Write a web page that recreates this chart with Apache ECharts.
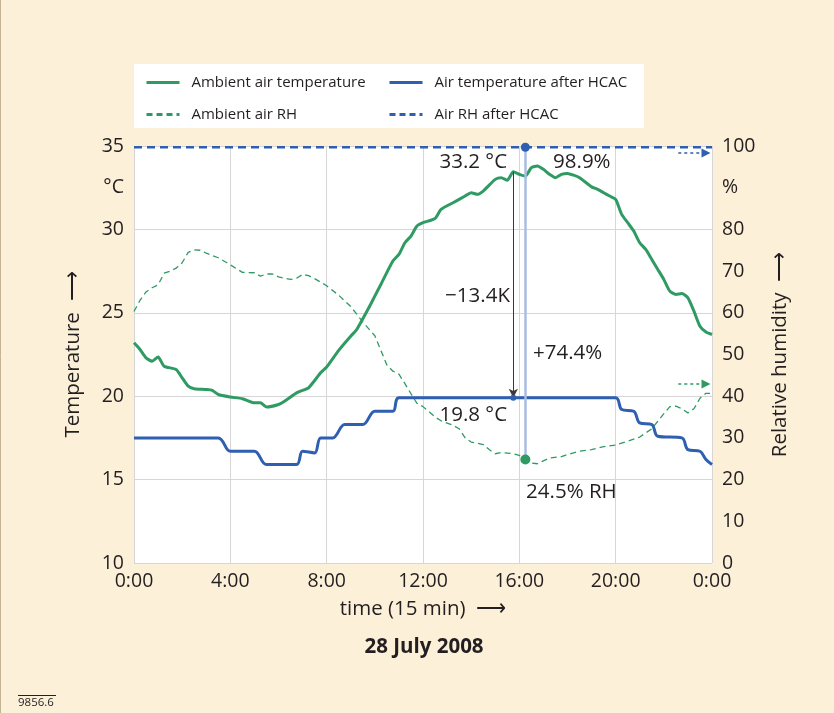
<!DOCTYPE html>
<html>
<head>
<meta charset="utf-8">
<title>28 July 2008</title>
<script src="https://cdn.jsdelivr.net/npm/echarts@6/dist/echarts.min.js"></script>
<style>
  html, body { margin: 0; padding: 0; background: #fdf0d9; }
  #chart { width: 834px; height: 713px; }
</style>
</head>
<body>
<div id="chart"></div>
<script>
const green = '#2f9b63';
const blue = '#2e5fb0';
const ink = '#231f20';
const font = '"Open Sans", "Noto Sans", sans-serif';

// tick labels
const timeLabels = ['0:00', '4:00', '8:00', '12:00', '16:00', '20:00', '0:00'];
const tempLabels = ['10', '', '15', '', '20', '', '25', '', '30', '°C', '35'];
const rhLabels = ['0', '10', '20', '30', '40', '50', '60', '70', '80', '%', '100'];

// [hour, °C]
const tAmbient = [
  [0, 23.2], [0.25, 22.8], [0.5, 22.3], [0.75, 22.1], [1.0, 22.35], [1.25, 21.8], [1.75, 21.6],
  [2.0, 21.1], [2.25, 20.6], [2.5, 20.45], [3.0, 20.4], [3.25, 20.35], [3.5, 20.1], [4.0, 19.95],
  [4.5, 19.85], [5.0, 19.6], [5.25, 19.6], [5.5, 19.35], [6.0, 19.5], [6.25, 19.7], [6.75, 20.2],
  [7.0, 20.35], [7.25, 20.5], [7.75, 21.4], [8.0, 21.75], [8.5, 22.75], [9.0, 23.6], [9.25, 24.0],
  [9.75, 25.3], [10.0, 26.0], [10.25, 26.7], [10.75, 28.1], [11.0, 28.5], [11.25, 29.2], [11.5, 29.6],
  [11.75, 30.2], [12.0, 30.4], [12.5, 30.65], [12.75, 31.2], [13.25, 31.6], [13.75, 32.0], [14.0, 32.2],
  [14.25, 32.1], [14.5, 32.3], [15.0, 33.0], [15.25, 33.1], [15.5, 32.95], [15.75, 33.45], [16.0, 33.3],
  [16.25, 33.2], [16.5, 33.7], [16.75, 33.8], [17.0, 33.6], [17.25, 33.3], [17.5, 33.1], [17.75, 33.3],
  [18.0, 33.35], [18.25, 33.25], [18.5, 33.1], [19.0, 32.55], [19.25, 32.4], [19.5, 32.2], [19.75, 32.0],
  [20.0, 31.8], [20.25, 30.9], [20.5, 30.4], [20.75, 29.9], [21.0, 29.2], [21.25, 28.8], [21.5, 28.2],
  [21.75, 27.6], [22.0, 27.0], [22.25, 26.3], [22.5, 26.1], [22.75, 26.15], [23.0, 25.9], [23.25, 25.1],
  [23.5, 24.2], [23.75, 23.85], [24, 23.7]
];
const tAfter = [
  [0, 17.5], [3.5, 17.5], [4.0, 16.7], [5.0, 16.7], [5.5, 15.9], [6.75, 15.9], [7.0, 16.7],
  [7.5, 16.6], [7.75, 17.5], [8.25, 17.5], [8.75, 18.3], [9.5, 18.3], [10.0, 19.1], [10.75, 19.1],
  [11.0, 19.9], [20.0, 19.9], [20.25, 19.2], [20.75, 19.1], [21.0, 18.4], [21.5, 18.3], [21.75, 17.6],
  [22.75, 17.5], [23.0, 16.8], [23.5, 16.7], [23.75, 16.2], [24, 15.9]
];
// [hour, %RH]
const rhAmbient = [
  [0, 60.3], [0.25, 63], [0.5, 65], [0.75, 66], [1.0, 66.7], [1.25, 69.5], [1.5, 70], [1.75, 70.7],
  [2.0, 72], [2.25, 74.5], [2.5, 75.1], [2.75, 75], [3.0, 74.3], [3.5, 73.2], [4.0, 71.5], [4.5, 69.7],
  [5.0, 69.6], [5.25, 68.8], [5.5, 69.3], [5.75, 69.3], [6.0, 68.6], [6.5, 68.0], [6.75, 68.3],
  [7.0, 69.2], [7.25, 68.9], [7.5, 68.2], [8.0, 66.5], [8.5, 64.2], [9.0, 61.5], [9.5, 57.8],
  [10.0, 54.5], [10.25, 51], [10.5, 47.5], [10.75, 46], [11.0, 45.3], [11.25, 43], [11.5, 40.6],
  [11.75, 38.3], [12.0, 37.5], [12.25, 36.3], [12.5, 35], [12.75, 34.1], [13.25, 33], [13.5, 32.2],
  [13.75, 30], [14.0, 29], [14.5, 28.4], [14.75, 27.2], [15.0, 26.2], [15.25, 26.5], [15.75, 26.2],
  [16.0, 25.8], [16.25, 24.9], [16.5, 24], [16.75, 23.8], [17.0, 24.5], [17.25, 25.2], [17.75, 25.5],
  [18.0, 26], [18.5, 26.8], [19.0, 27.2], [19.5, 27.9], [20.0, 28.3], [20.5, 29.2], [21.0, 30.2],
  [21.5, 32.2], [21.75, 34], [22.0, 35.8], [22.25, 37.5], [22.5, 37.6], [22.75, 37], [23.0, 36],
  [23.25, 37], [23.5, 39.5], [23.75, 40.7], [24, 40.7]
];
const rhAfter = [[0, 99.7], [24, 99.7]];

// annotation values
const tPeak = [15.75, 33.45];
const tCooled = [15.75, 19.9];
const rhLow = [16.25, 24.8];
const rhHigh = [16.25, 99.7];

function textPoint(coord, text, side) {
  return {
    coord: coord,
    symbolSize: 0,
    label: {
      show: true, formatter: text, position: side, distance: 0,
      fontSize: 20.5, color: ink, fontFamily: font
    }
  };
}

// legend icon: line only, no marker
function legendItem(name, dashed) {
  return {
    name: name,
    itemStyle: { color: 'transparent', borderColor: 'transparent', borderWidth: 0, opacity: 0 },
    lineStyle: { width: 3, type: dashed ? [6, 4] : 'solid' }
  };
}

const chart = echarts.init(document.getElementById('chart'));

const option = {
  animation: false,
  backgroundColor: '#fdf0d9',
  textStyle: { fontFamily: font, color: ink },
  grid: {
    left: 134, right: 122, top: 146, bottom: 150,
    show: true, backgroundColor: '#ffffff', borderWidth: 0
  },
  legend: [
    {
      data: [legendItem('Ambient air temperature', false), legendItem('Ambient air RH', true)],
      orient: 'vertical', left: 145, top: 75, padding: 0,
      itemWidth: 33, itemHeight: 14, itemGap: 17,
      textStyle: { fontSize: 15, color: ink, fontFamily: font, padding: [0, 0, 0, 7] }
    },
    {
      data: [legendItem('Air temperature after HCAC', false), legendItem('Air RH after HCAC', true)],
      orient: 'vertical', left: 388, top: 75, padding: 0,
      itemWidth: 33, itemHeight: 14, itemGap: 17,
      textStyle: { fontSize: 15, color: ink, fontFamily: font, padding: [0, 0, 0, 7] }
    }
  ],
  xAxis: {
    type: 'value', min: 0, max: 24, interval: 4,
    name: 'time (15 min)  \u27f6', nameLocation: 'middle', nameGap: 36,
    nameTextStyle: { fontSize: 20.5, color: ink },
    axisLine: { show: false }, axisTick: { show: false },
    axisLabel: { fontSize: 19.5, color: ink, margin: 8, formatter: v => timeLabels[Math.round(v / 4)] },
    splitLine: { show: true, lineStyle: { color: '#d6d6d6' } }
  },
  yAxis: [
    {
      type: 'value', min: 10, max: 35, interval: 2.5, position: 'left',
      name: 'Temperature  \u27f6', nameLocation: 'middle', nameGap: 50, nameRotate: 90,
      nameTextStyle: { fontSize: 20.5, color: ink },
      axisLine: { show: false }, axisTick: { show: false }, splitLine: { show: false },
      axisLabel: { fontSize: 19.5, color: ink, margin: 10, formatter: v => tempLabels[Math.round((v - 10) / 2.5)] }
    },
    {
      type: 'value', min: 0, max: 100, interval: 10, position: 'right',
      name: 'Relative humidity  \u27f6', nameLocation: 'middle', nameGap: 58, nameRotate: 90,
      nameTextStyle: { fontSize: 20.5, color: ink },
      axisLine: { show: false }, axisTick: { show: false }, splitLine: { show: false },
      axisLabel: { fontSize: 19.5, color: ink, margin: 10, formatter: v => rhLabels[Math.round(v / 10)] }
    },
    {
      // grid lines only
      type: 'value', min: 10, max: 35, interval: 5, position: 'left',
      axisLine: { show: false }, axisTick: { show: false }, axisLabel: { show: false },
      splitLine: { show: true, lineStyle: { color: '#d6d6d6' } }
    }
  ],
  series: [
    {
      name: 'Ambient air temperature', type: 'line', yAxisIndex: 0,
      data: tAmbient, symbol: 'none', smooth: 0.2,
      lineStyle: { color: green, width: 3 }, itemStyle: { color: green },
      z: 4,
      markLine: {
        silent: true, symbol: ['none', 'arrow'], symbolSize: [7, 9],
        label: { show: false },
        lineStyle: { color: '#3a3a3a', width: 1, type: 'solid' },
        data: [[{ coord: tPeak }, { coord: tCooled }]]
      },
      markPoint: {
        silent: true,
        data: [
          textPoint([15.49, 34.04], '33.2 °C', 'left'),
          textPoint([17.40, 34.04], '98.9%', 'right'),
          textPoint([15.61, 26.01], '\u221213.4K', 'left'),
          textPoint([16.57, 22.59], '+74.4%', 'right'),
          textPoint([15.49, 18.87], '19.8 °C', 'left'),
          textPoint([16.28, 14.26], '24.5% RH', 'right')
        ]
      }
    },
    {
      name: 'Air temperature after HCAC', type: 'line', yAxisIndex: 0,
      data: tAfter, symbol: 'none', smooth: 0.35,
      lineStyle: { color: blue, width: 3 }, itemStyle: { color: blue },
      z: 4,
      markPoint: {
        silent: true, symbol: 'circle', symbolSize: 6,
        itemStyle: { color: blue }, label: { show: false },
        data: [{ coord: tCooled }]
      }
    },
    {
      name: 'Ambient air RH', type: 'line', yAxisIndex: 1,
      data: rhAmbient, symbol: 'none',
      lineStyle: { color: green, width: 1.3, type: [6, 4] }, itemStyle: { color: green },
      z: 3,
      markLine: {
        silent: true, symbol: ['none', 'triangle'], symbolSize: [9, 9],
        label: { show: false },
        lineStyle: { color: green, width: 1.5, type: [3, 3] },
        data: [[{ coord: [22.6, 42.9] }, { coord: [23.75, 42.9] }]]
      },
      markPoint: {
        silent: true, symbol: 'circle', symbolSize: 10,
        itemStyle: { color: green }, label: { show: false },
        data: [{ coord: rhLow }]
      }
    },
    {
      name: 'Air RH after HCAC', type: 'line', yAxisIndex: 1,
      data: rhAfter, symbol: 'none',
      lineStyle: { color: blue, width: 2.5, type: [8, 5] }, itemStyle: { color: blue },
      z: 3,
      markLine: {
        silent: true, symbol: ['none', 'none'],
        label: { show: false },
        data: [
          [{ coord: rhHigh, lineStyle: { color: '#a8bde3', width: 2.5, type: 'solid' } }, { coord: rhLow }],
          [{ coord: [22.6, 98.3], symbol: 'none', lineStyle: { color: blue, width: 1.5, type: [3, 3] } },
           { coord: [23.75, 98.3], symbol: 'triangle', symbolSize: 9, symbolRotate: -90 }]
        ]
      },
      markPoint: {
        silent: true, symbol: 'circle', symbolSize: 9,
        itemStyle: { color: blue }, label: { show: false },
        data: [{ coord: rhHigh }]
      }
    }
  ],
  graphic: [
    {
      type: 'rect', z: -1, silent: true,
      shape: { x: 134, y: 64, width: 510, height: 64 },
      style: { fill: '#ffffff' }
    },
    {
      type: 'line', silent: true,
      shape: { x1: 0.5, y1: 0, x2: 0.5, y2: 713 },
      style: { stroke: '#c4b393', lineWidth: 1 }
    },
    {
      type: 'text', x: 424, y: 647, silent: true,
      style: {
        text: '28 July 2008', fontSize: 20.5, fontWeight: 'bold', fontFamily: font,
        fill: ink, align: 'center', verticalAlign: 'middle'
      }
    },
    {
      type: 'text', x: 18, y: 703, silent: true,
      style: { text: '9856.6', fontSize: 11.5, fontFamily: font, fill: ink, verticalAlign: 'middle' }
    },
    {
      type: 'line', silent: true,
      shape: { x1: 18, y1: 695.5, x2: 56, y2: 695.5 },
      style: { stroke: ink, lineWidth: 1 }
    }
  ]
};

chart.setOption(option);
</script>
</body>
</html>
